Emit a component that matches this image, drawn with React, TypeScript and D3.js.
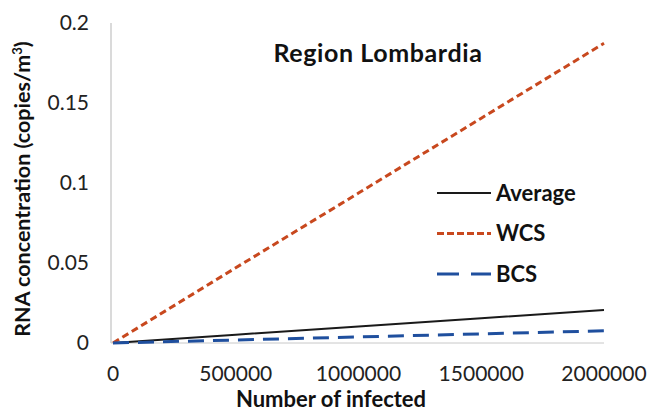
import React from "react";
import * as d3 from "d3";

const infected = [0, 500000, 1000000, 1500000, 2000000];
const averageVals = [0, 0.0052, 0.0103, 0.0155, 0.0206];
const wcsVals = [0, 0.047, 0.0937, 0.1405, 0.1873];
const bcsVals = [0, 0.0019, 0.0038, 0.0057, 0.0076];
const xTicks = [0, 500000, 1000000, 1500000, 2000000];
const yTicks = [0, 0.05, 0.1, 0.15, 0.2];

const series = [
  { name: "Average", values: averageVals, color: "#1a1a1a", width: 2, dash: null },
  { name: "WCS", values: wcsVals, color: "#c8481e", width: 3, dash: "7,4" },
  { name: "BCS", values: bcsVals, color: "#1f4f9e", width: 3, dash: "16,9" },
];

const font = "Lato, 'Open Sans', sans-serif";

export default function App() {
  const width = 652;
  const height = 412;
  const x = d3.scaleLinear().domain([0, 2000000]).range([113, 604]);
  const y = d3.scaleLinear().domain([0, 0.2]).range([343, 23]);
  const line = d3
    .line<number>()
    .x((_, i) => x(infected[i]))
    .y(d => y(d));

  return (
    <svg
      width={width}
      height={height}
      style={{ position: "absolute", left: 0, top: 0, background: "#fff" }}
      fontFamily={font}
    >
      {/* axes */}
      <line x1={111} x2={111} y1={y(0.2)} y2={y(0)} stroke="#b5b5b5" strokeWidth={1} />
      <line x1={111} x2={x(2000000)} y1={y(0)} y2={y(0)} stroke="#c8c8c8" strokeWidth={1} />

      {yTicks.map(t => (
        <text key={t} x={89} y={y(t)} dy="0.35em" textAnchor="end" fontSize={21} fill="#222">
          {t}
        </text>
      ))}
      {xTicks.map(t => (
        <text key={t} x={x(t)} y={374} dy="0.35em" textAnchor="middle" fontSize={21} fill="#222">
          {t}
        </text>
      ))}

      {series.map(s => (
        <path
          key={s.name}
          d={line(s.values) || ""}
          fill="none"
          stroke={s.color}
          strokeWidth={s.width}
          strokeDasharray={s.dash || undefined}
        />
      ))}

      <text
        x={378}
        y={53}
        dy="0.35em"
        textAnchor="middle"
        fontSize={25}
        fontWeight="bold"
        letterSpacing={0.6}
        fill="#111"
      >
        Region Lombardia
      </text>

      {series.map((s, i) => (
        <g key={s.name} transform={`translate(0, ${193 + i * 40.5})`}>
          <line
            x1={437}
            x2={491}
            y1={0}
            y2={0}
            stroke={s.color}
            strokeWidth={s.width}
            strokeDasharray={s.dash ? (s.name === "BCS" ? "22,12" : "7,3") : undefined}
          />
          <text x={496} y={0} dy="0.35em" fontSize={22} fontWeight="bold" fill="#111">
            {s.name}
          </text>
        </g>
      ))}

      <text x={331} y={399} dy="0.35em" textAnchor="middle" fontSize={22} fontWeight="bold" fill="#111">
        Number of infected
      </text>
      <text
        transform="translate(22, 189) rotate(-90)"
        dy="0.35em"
        textAnchor="middle"
        fontSize={21.5}
        fontWeight="bold"
        fill="#111"
      >
        RNA concentration (copies/m
        <tspan dy="-8" fontSize={13}>3</tspan>
        <tspan dy="8">)</tspan>
      </text>
    </svg>
  );
}
